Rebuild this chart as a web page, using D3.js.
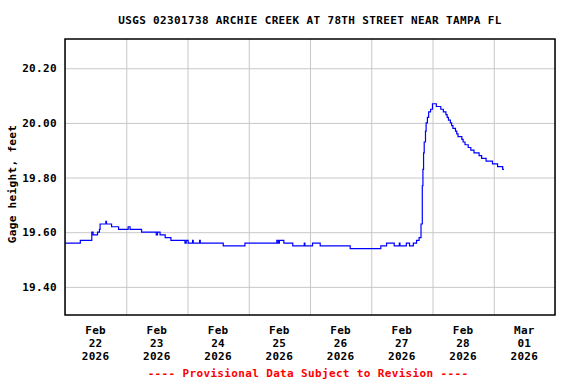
<!DOCTYPE html>
<html>
<head>
<meta charset="utf-8">
<script src="https://cdn.jsdelivr.net/npm/d3@7"></script>
<style>
  body { margin: 0; background: #fff; }
  text { font-family: "DejaVu Sans Mono", "Liberation Mono", monospace; font-weight: bold; font-size: 11px; letter-spacing: 0.35px; }
</style>
</head>
<body>
<div id="chart"></div>
<script>
// gage height readings (change points of the step record)
const times = [
  "2026-02-22 00:00", "2026-02-22 06:00", "2026-02-22 10:30", "2026-02-22 11:00",
  "2026-02-22 12:45", "2026-02-22 13:30", "2026-02-22 13:45", "2026-02-22 16:00",
  "2026-02-22 16:15", "2026-02-22 18:15", "2026-02-22 21:00", "2026-02-23 00:45",
  "2026-02-23 01:30", "2026-02-23 06:00", "2026-02-23 11:45", "2026-02-23 12:15",
  "2026-02-23 13:15", "2026-02-23 15:15", "2026-02-23 17:30", "2026-02-23 23:00",
  "2026-02-23 23:30", "2026-02-24 00:15", "2026-02-24 02:00", "2026-02-24 02:15",
  "2026-02-24 04:45", "2026-02-24 05:00", "2026-02-24 14:00", "2026-02-24 22:30",
  "2026-02-25 11:00", "2026-02-25 11:30", "2026-02-25 12:00", "2026-02-25 13:45",
  "2026-02-25 17:15", "2026-02-25 21:45", "2026-02-25 22:00", "2026-02-26 01:00",
  "2026-02-26 04:00", "2026-02-26 15:45", "2026-02-27 03:45", "2026-02-27 06:00",
  "2026-02-27 09:00", "2026-02-27 11:00", "2026-02-27 11:15", "2026-02-27 13:45",
  "2026-02-27 15:00", "2026-02-27 16:30", "2026-02-27 17:45", "2026-02-27 18:45",
  "2026-02-27 19:30", "2026-02-27 20:00", "2026-02-27 20:15", "2026-02-27 20:30",
  "2026-02-27 20:45", "2026-02-27 21:15", "2026-02-27 21:30", "2026-02-27 22:00",
  "2026-02-27 22:30", "2026-02-27 23:15", "2026-02-28 00:00", "2026-02-28 01:30",
  "2026-02-28 03:15", "2026-02-28 04:15", "2026-02-28 05:15", "2026-02-28 05:45",
  "2026-02-28 06:15", "2026-02-28 07:00", "2026-02-28 07:30", "2026-02-28 08:00",
  "2026-02-28 09:00", "2026-02-28 09:30", "2026-02-28 10:00", "2026-02-28 11:30",
  "2026-02-28 12:00", "2026-02-28 12:45", "2026-02-28 14:00", "2026-02-28 15:00",
  "2026-02-28 16:15", "2026-02-28 18:15", "2026-02-28 19:15", "2026-02-28 21:00",
  "2026-02-28 23:30", "2026-03-01 01:30", "2026-03-01 03:30", "2026-03-01 04:00"
];
const gageHeight = [
  19.56, 19.57, 19.60, 19.59,
  19.60, 19.61, 19.63, 19.64,
  19.63, 19.62, 19.61, 19.62,
  19.61, 19.60, 19.59, 19.60,
  19.59, 19.58, 19.57, 19.56,
  19.57, 19.56, 19.57, 19.56,
  19.57, 19.56, 19.55, 19.56,
  19.57, 19.56, 19.57, 19.56,
  19.55, 19.56, 19.55, 19.56,
  19.55, 19.54, 19.55, 19.56,
  19.55, 19.56, 19.55, 19.56,
  19.55, 19.56, 19.57, 19.58,
  19.63, 19.77, 19.83, 19.89,
  19.93, 19.97, 20.00, 20.02,
  20.04, 20.05, 20.07, 20.06,
  20.05, 20.04, 20.03, 20.02,
  20.01, 20.00, 19.99, 19.98,
  19.97, 19.96, 19.95, 19.94,
  19.93, 19.92, 19.91, 19.90,
  19.89, 19.88, 19.87, 19.86,
  19.85, 19.84, 19.83, 19.83
];
const yTicks = [19.40, 19.60, 19.80, 20.00, 20.20];
const dayLabels = ["2026-02-22", "2026-02-23", "2026-02-24", "2026-02-25",
                   "2026-02-26", "2026-02-27", "2026-02-28", "2026-03-01"];
const titleText = "USGS 02301738 ARCHIE CREEK AT 78TH STREET NEAR TAMPA FL";
const yLabel = "Gage height, feet";
const footerText = "---- Provisional Data Subject to Revision ----";

const svgWidth = 576;
const svgHeight = 384;
const margin = { top: 39, right: 21, bottom: 69, left: 65 };
const width = svgWidth - margin.left - margin.right;
const height = svgHeight - margin.top - margin.bottom;

const parseTime = d3.timeParse("%Y-%m-%d %H:%M");
const parseDay = d3.timeParse("%Y-%m-%d");
const data = times.map((t, i) => ({ date: parseTime(t), value: gageHeight[i] }));

const svg = d3.select("#chart")
  .append("svg")
  .attr("width", svgWidth)
  .attr("height", svgHeight);

const chartGroup = svg.append("g")
  .attr("transform", `translate(${margin.left}, ${margin.top})`);

const xScale = d3.scaleTime()
  .domain([parseDay("2026-02-22"), parseDay("2026-03-02")])
  .range([0, width]);

const yScale = d3.scaleLinear()
  .domain([19.297, 20.307])
  .range([height, 0]);

// vertical grid at midnight
const xGrid = chartGroup.append("g")
  .attr("transform", `translate(0, ${height})`)
  .call(d3.axisBottom(xScale).ticks(d3.timeDay.every(1)).tickSize(-height).tickFormat(""));
xGrid.select(".domain").remove();
xGrid.selectAll("line").attr("stroke", "#c8c8c8").attr("stroke-width", 1);

// horizontal grid + labels
const yAxis = chartGroup.append("g")
  .call(d3.axisLeft(yScale).tickValues(yTicks).tickSize(-width).tickPadding(8).tickFormat(d3.format(".2f")));
yAxis.select(".domain").remove();
yAxis.selectAll("line").attr("stroke", "#c8c8c8").attr("stroke-width", 1);
yAxis.selectAll("text")
  .attr("fill", "#000")
  .attr("font-size", null)
  .attr("font-family", null);

// day labels at noon
const noons = dayLabels.map(d => d3.timeHour.offset(parseDay(d), 12));
const xLabels = chartGroup.append("g")
  .attr("transform", `translate(0, ${height})`);
noons.forEach(n => {
  const t = xLabels.append("text")
    .attr("x", xScale(n))
    .attr("y", 19)
    .attr("text-anchor", "middle")
    .attr("fill", "#000");
  ["%b", "%d", "%Y"].forEach((f, i) => {
    t.append("tspan")
      .attr("x", xScale(n))
      .attr("dy", i === 0 ? 0 : 12.8)
      .text(d3.timeFormat(f)(n));
  });
});

// data line
const line = d3.line()
  .x(d => xScale(d.date))
  .y(d => yScale(d.value))
  .curve(d3.curveStepAfter);

chartGroup.append("path")
  .datum(data)
  .attr("fill", "none")
  .attr("stroke", "#0000ff")
  .attr("stroke-width", 1.2)
  .attr("d", line);

// frame
chartGroup.append("rect")
  .attr("x", 0)
  .attr("y", 0)
  .attr("width", width)
  .attr("height", height)
  .attr("fill", "none")
  .attr("stroke", "#000")
  .attr("stroke-width", 1.5);

svg.append("text")
  .attr("x", margin.left + width / 2)
  .attr("y", 24)
  .attr("text-anchor", "middle")
  .text(titleText);

svg.append("text")
  .attr("transform", "rotate(-90)")
  .attr("x", -184)
  .attr("y", 16)
  .attr("text-anchor", "middle")
  .text(yLabel);

svg.append("text")
  .attr("x", 308)
  .attr("y", 377)
  .attr("text-anchor", "middle")
  .attr("fill", "#ff0000")
  .text(footerText);
</script>
</body>
</html>
